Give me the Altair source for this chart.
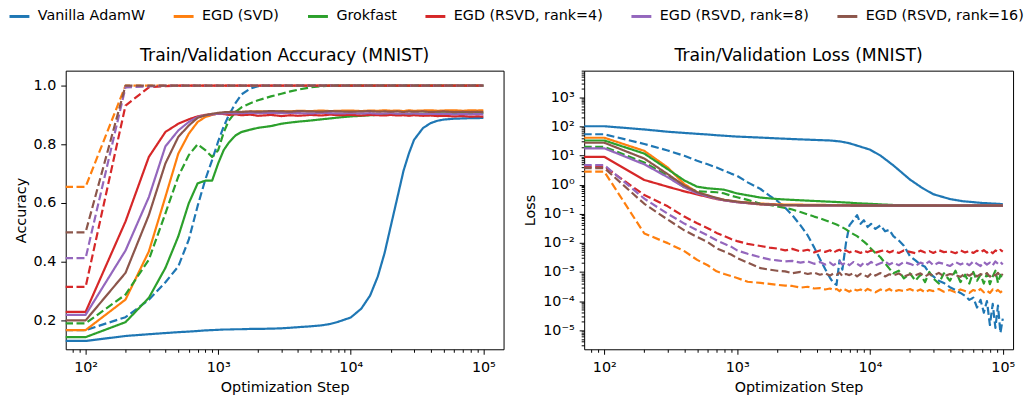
import altair as alt
import pandas as pd

METHODS = ["Vanilla AdamW", "EGD (SVD)", "Grokfast", "EGD (RSVD, rank=4)",
           "EGD (RSVD, rank=8)", "EGD (RSVD, rank=16)"]
COLORS = ["#1f77b4", "#ff7f0e", "#2ca02c", "#d62728", "#9467bd", "#8c564b"]

# ---------------- accuracy panel ----------------
ACC_STEPS = [70, 100, 200, 300, 400, 500, 600, 700, 800, 900,
             1000, 1100, 1200, 1350, 1500, 1750, 2000, 2500, 3000, 3500,
             4000, 5000, 6000, 7000, 8000, 10000, 12000, 14000, 16000, 18000,
             20000, 22500, 25000, 27500, 30000, 35000, 40000, 45000, 50000, 60000,
             70000, 80000, 90000, 100000]

ACC_TRAIN_ADAMW = [0.130, 0.130, 0.147, 0.153, 0.157, 0.160, 0.162, 0.164, 0.166, 0.167,
                   0.168, 0.169, 0.169, 0.170, 0.170, 0.171, 0.171, 0.172, 0.173, 0.175,
                   0.177, 0.180, 0.183, 0.188, 0.195, 0.210, 0.240, 0.285, 0.350, 0.430,
                   0.520, 0.620, 0.710, 0.770, 0.815, 0.855, 0.872, 0.880, 0.884, 0.887,
                   0.888, 0.889, 0.889, 0.890]
ACC_VAL_ADAMW = [0.167, 0.167, 0.211, 0.270, 0.330, 0.384, 0.475, 0.590, 0.680, 0.746,
                 0.810, 0.860, 0.898, 0.940, 0.970, 0.990, 0.998, 1.000, 1.000, 1.000,
                 1.0, 1.0, 1.0, 1.0, 1.0, 1.0, 1.0, 1.0, 1.0, 1.0,
                 1.0, 1.0, 1.0, 1.0, 1.0, 1.0, 1.0, 1.0, 1.0, 1.0,
                 1.0, 1.0, 1.0, 1.0]
ACC_TRAIN_SVD = [0.167, 0.167, 0.271, 0.435, 0.621, 0.768, 0.836, 0.876, 0.893, 0.900,
                 0.905, 0.907, 0.908, 0.909, 0.910, 0.911, 0.912, 0.911, 0.913, 0.912,
                 0.914, 0.913, 0.915, 0.913, 0.914, 0.915, 0.913, 0.915, 0.914, 0.916,
                 0.914, 0.915, 0.913, 0.916, 0.914, 0.915, 0.916, 0.914, 0.915, 0.916,
                 0.914, 0.916, 0.915, 0.916]
ACC_VAL_SVD = [0.655, 0.655, 1.0, 1.0, 1.0, 1.0, 1.0, 1.0, 1.0, 1.0,
               1.0, 1.0, 1.0, 1.0, 1.0, 1.0, 1.0, 1.0, 1.0, 1.0,
               1.0, 1.0, 1.0, 1.0, 1.0, 1.0, 1.0, 1.0, 1.0, 1.0,
               1.0, 1.0, 1.0, 1.0, 1.0, 1.0, 1.0, 1.0, 1.0, 1.0,
               1.0, 1.0, 1.0, 1.0]
ACC_TRAIN_GROK = [0.143, 0.143, 0.194, 0.277, 0.379, 0.486, 0.599, 0.667, 0.676, 0.676,
                  0.735, 0.780, 0.805, 0.830, 0.842, 0.850, 0.856, 0.862, 0.870, 0.874,
                  0.877, 0.881, 0.885, 0.888, 0.891, 0.895, 0.897, 0.899, 0.900, 0.901,
                  0.902, 0.902, 0.903, 0.903, 0.904, 0.904, 0.905, 0.905, 0.905, 0.906,
                  0.906, 0.906, 0.907, 0.907]
ACC_VAL_GROK = [0.190, 0.190, 0.288, 0.407, 0.565, 0.690, 0.763, 0.800, 0.780, 0.757,
                0.780, 0.840, 0.880, 0.910, 0.926, 0.940, 0.950, 0.963, 0.972, 0.980,
                0.986, 0.994, 0.998, 1.0, 1.0, 1.0, 1.0, 1.0, 1.0, 1.0,
                1.0, 1.0, 1.0, 1.0, 1.0, 1.0, 1.0, 1.0, 1.0, 1.0,
                1.0, 1.0, 1.0, 1.0]
ACC_TRAIN_R4 = [0.229, 0.229, 0.537, 0.757, 0.842, 0.870, 0.885, 0.895, 0.900, 0.902,
                0.904, 0.903, 0.900, 0.902, 0.899, 0.901, 0.897, 0.900, 0.896, 0.899,
                0.897, 0.900, 0.898, 0.901, 0.899, 0.900, 0.898, 0.900, 0.899, 0.898,
                0.900, 0.898, 0.899, 0.897, 0.899, 0.897, 0.898, 0.896, 0.897, 0.895,
                0.896, 0.894, 0.895, 0.894]
ACC_VAL_R4 = [0.314, 0.314, 0.932, 0.994, 0.998, 1.0, 1.0, 1.0, 1.0, 1.0,
              1.0, 1.0, 1.0, 1.0, 1.0, 1.0, 1.0, 1.0, 1.0, 1.0,
              1.0, 1.0, 1.0, 1.0, 1.0, 1.0, 1.0, 1.0, 1.0, 1.0,
              1.0, 1.0, 1.0, 1.0, 1.0, 1.0, 1.0, 1.0, 1.0, 1.0,
              1.0, 1.0, 1.0, 1.0]
ACC_TRAIN_R8 = [0.219, 0.219, 0.438, 0.620, 0.793, 0.847, 0.876, 0.893, 0.899, 0.902,
                0.904, 0.905, 0.906, 0.905, 0.906, 0.907, 0.906, 0.907, 0.906, 0.907,
                0.906, 0.905, 0.907, 0.906, 0.905, 0.906, 0.905, 0.906, 0.904, 0.905,
                0.906, 0.904, 0.905, 0.904, 0.905, 0.903, 0.904, 0.903, 0.904, 0.902,
                0.903, 0.902, 0.903, 0.902]
ACC_VAL_R8 = [0.412, 0.412, 0.994, 0.997, 1.0, 1.0, 1.0, 1.0, 1.0, 1.0,
              1.0, 1.0, 1.0, 1.0, 1.0, 1.0, 1.0, 1.0, 1.0, 1.0,
              1.0, 1.0, 1.0, 1.0, 1.0, 1.0, 1.0, 1.0, 1.0, 1.0,
              1.0, 1.0, 1.0, 1.0, 1.0, 1.0, 1.0, 1.0, 1.0, 1.0,
              1.0, 1.0, 1.0, 1.0]
ACC_TRAIN_R16 = [0.200, 0.200, 0.362, 0.559, 0.735, 0.825, 0.864, 0.890, 0.899, 0.904,
                 0.907, 0.909, 0.910, 0.911, 0.910, 0.912, 0.911, 0.913, 0.912, 0.911,
                 0.913, 0.912, 0.911, 0.913, 0.912, 0.911, 0.912, 0.913, 0.911, 0.912,
                 0.911, 0.912, 0.910, 0.912, 0.911, 0.912, 0.910, 0.911, 0.912, 0.910,
                 0.911, 0.910, 0.911, 0.910]
ACC_VAL_R16 = [0.500, 0.500, 1.0, 1.0, 1.0, 1.0, 1.0, 1.0, 1.0, 1.0,
               1.0, 1.0, 1.0, 1.0, 1.0, 1.0, 1.0, 1.0, 1.0, 1.0,
               1.0, 1.0, 1.0, 1.0, 1.0, 1.0, 1.0, 1.0, 1.0, 1.0,
               1.0, 1.0, 1.0, 1.0, 1.0, 1.0, 1.0, 1.0, 1.0, 1.0,
               1.0, 1.0, 1.0, 1.0]

# ---------------- loss panel ----------------
LOSS_TRAIN_STEPS = [70, 100, 200, 300, 400, 500, 600, 700, 800, 1000,
                    1500, 2000, 3000, 5000, 6000, 7000, 8000, 10000, 12000, 15000,
                    20000, 25000, 30000, 40000, 50000, 70000, 100000]
LOSS_TRAIN_ADAMW = [102, 102, 79, 66, 60, 56, 53, 50, 48, 45,
                    41.5, 39, 36, 33, 30.5, 26.5, 22, 16, 10, 4.6,
                    1.5, 0.75, 0.47, 0.32, 0.27, 0.235, 0.215]
LOSS_TRAIN_SVD = [41, 41, 14.5, 3.9, 1.05, 0.55, 0.42, 0.34, 0.30, 0.26,
                  0.225, 0.21, 0.205, 0.20, 0.20, 0.198, 0.197, 0.196, 0.195, 0.195,
                  0.194, 0.193, 0.193, 0.192, 0.192, 0.191, 0.191]
LOSS_TRAIN_GROK = [33, 33, 11.7, 3.4, 1.4, 0.85, 0.75, 0.71, 0.67, 0.50,
                   0.36, 0.32, 0.29, 0.26, 0.25, 0.24, 0.23, 0.22, 0.21, 0.20,
                   0.195, 0.193, 0.192, 0.191, 0.19, 0.19, 0.19]
LOSS_TRAIN_R4 = [9, 9, 1.45, 0.85, 0.59, 0.46, 0.38, 0.32, 0.29, 0.25,
                 0.21, 0.20, 0.195, 0.193, 0.192, 0.192, 0.191, 0.191, 0.19, 0.19,
                 0.19, 0.19, 0.19, 0.19, 0.19, 0.19, 0.19]
LOSS_TRAIN_R8 = [17.8, 17.8, 5.0, 1.8, 0.81, 0.50, 0.40, 0.33, 0.29, 0.25,
                 0.215, 0.20, 0.195, 0.193, 0.192, 0.192, 0.191, 0.191, 0.19, 0.19,
                 0.19, 0.19, 0.19, 0.19, 0.19, 0.19, 0.19]
LOSS_TRAIN_R16 = [27.6, 27.6, 7.9, 2.3, 0.93, 0.55, 0.43, 0.35, 0.30, 0.26,
                  0.215, 0.20, 0.195, 0.193, 0.192, 0.192, 0.191, 0.191, 0.19, 0.19,
                  0.19, 0.19, 0.19, 0.19, 0.19, 0.19, 0.19]

LOSS_STEPS = [70, 100, 200, 300, 400, 500, 600, 700, 800, 900,
              1000, 1200, 1500, 1750, 2000, 2300, 2600, 3000, 3400, 3800,
              4200, 4600, 5000, 5300, 5600, 5900, 6200, 6600, 7000, 7500,
              8000, 8500, 9000, 9600, 10200, 11000, 12000, 13000, 14000, 15000,
              16500, 18000, 20000, 22000, 24000, 26000, 28000, 30000, 33000, 36000,
              40000, 44000, 48000, 52000, 56000, 60000, 64000, 68000, 72000, 76000,
              80000, 84000, 88000, 92000, 96000, 100000]
LOSS_VAL_ADAMW = [54, 54, 25, 15, 9.8, 6.6, 5.0, 3.9, 3.0, 2.4,
                  2.0, 1.2, 0.71, 0.42, 0.28, 0.16, 0.09, 0.04, 0.018, 0.007,
                  0.0028, 0.00126, 0.00063, 0.00042, 0.00036, 0.0025, 0.0012, 0.01, 0.04, 0.06,
                  0.09, 0.045, 0.06, 0.035, 0.045, 0.03, 0.04, 0.025, 0.028, 0.017,
                  0.012, 0.008, 0.0035, 0.0025, 0.0018, 0.0015, 0.0009, 0.0007, 0.0005, 0.00042,
                  0.0003, 0.00024, 0.00019, 0.00015, 0.00011, 0.00013, 0.00006, 0.00011, 0.00004, 0.0001,
                  0.000015, 0.00008, 0.000012, 0.00007, 0.000008, 0.000025]
LOSS_VAL_SVD = [2.8, 2.8, 0.021, 0.0098, 0.0052, 0.0026, 0.0017, 0.00105, 0.00085, 0.00072,
                0.00062, 0.00046, 0.00042, 0.00039, 0.00036, 0.00034, 0.00033, 0.00029, 0.00031, 0.00027,
                0.00028, 0.00025, 0.00027, 0.00024, 0.00026, 0.00022, 0.00027, 0.00024, 0.00021, 0.00026,
                0.00023, 0.00025, 0.00021, 0.00026, 0.00023, 0.00020, 0.00025, 0.00022, 0.00026, 0.00021,
                0.00024, 0.00022, 0.00026, 0.00021, 0.00025, 0.00020, 0.00024, 0.00022, 0.00026, 0.00021,
                0.00024, 0.00020, 0.00025, 0.00022, 0.00019, 0.00024, 0.00021, 0.00026, 0.00020, 0.00023,
                0.00019, 0.00025, 0.00021, 0.00024, 0.00020, 0.00023]
LOSS_VAL_GROK = [20, 20, 5.8, 2.0, 0.81, 0.59, 0.57, 0.55, 0.50, 0.42,
                 0.37, 0.30, 0.22, 0.20, 0.18, 0.16, 0.14, 0.115, 0.095, 0.08,
                 0.07, 0.06, 0.052, 0.047, 0.043, 0.038, 0.034, 0.029, 0.024, 0.020,
                 0.017, 0.0135, 0.011, 0.0085, 0.0062, 0.0045, 0.0032, 0.0020, 0.0013, 0.0009,
                 0.0011, 0.0006, 0.0009, 0.0005, 0.0008, 0.00045, 0.0010, 0.0006, 0.0004, 0.0009,
                 0.0005, 0.0011, 0.00045, 0.0008, 0.0004, 0.0010, 0.0005, 0.0008, 0.0004, 0.0009,
                 0.00038, 0.0007, 0.0011, 0.00042, 0.0008, 0.0005]
LOSS_VAL_R4 = [4.2, 4.2, 0.44, 0.18, 0.08, 0.047, 0.032, 0.022, 0.017, 0.0135,
               0.0115, 0.0092, 0.0078, 0.0069, 0.0064, 0.0055, 0.0062, 0.0051, 0.0058, 0.0047,
               0.0055, 0.0049, 0.0056, 0.0046, 0.0053, 0.0058, 0.0049, 0.0055, 0.0047, 0.0054,
               0.0050, 0.0045, 0.0053, 0.0048, 0.0055, 0.0046, 0.0052, 0.0057, 0.0047, 0.0053,
               0.0045, 0.0055, 0.0049, 0.0044, 0.0054, 0.0047, 0.0052, 0.0045, 0.0056, 0.0048,
               0.0051, 0.0044, 0.0055, 0.0047, 0.0052, 0.0045, 0.0054, 0.0048, 0.0056, 0.0046,
               0.0053, 0.0044, 0.0055, 0.0049, 0.0057, 0.0050]
LOSS_VAL_R8 = [4.7, 4.7, 0.33, 0.10, 0.046, 0.027, 0.018, 0.0123, 0.0093, 0.0074,
               0.0055, 0.0042, 0.0032, 0.0027, 0.0025, 0.0023, 0.0024, 0.0021, 0.0023, 0.0019,
               0.0022, 0.0018, 0.0021, 0.0017, 0.0020, 0.0023, 0.0018, 0.0021, 0.0017, 0.0022,
               0.0019, 0.0016, 0.0021, 0.0018, 0.0022, 0.0017, 0.0020, 0.0023, 0.0018, 0.0021,
               0.0017, 0.0022, 0.0019, 0.0016, 0.0021, 0.0018, 0.0023, 0.0017, 0.0021, 0.0019,
               0.0016, 0.0022, 0.0018, 0.0021, 0.0017, 0.0023, 0.0019, 0.0016, 0.0022, 0.0018,
               0.0021, 0.0017, 0.0023, 0.0019, 0.0022, 0.0018]
LOSS_VAL_R16 = [3.7, 3.7, 0.22, 0.063, 0.027, 0.016, 0.0107, 0.0065, 0.0050, 0.0040,
                0.0030, 0.0021, 0.00135, 0.0012, 0.0011, 0.00105, 0.0009, 0.0010, 0.00085, 0.00095,
                0.0008, 0.0009, 0.00075, 0.00088, 0.0008, 0.00095, 0.00072, 0.00085, 0.00078, 0.0009,
                0.0007, 0.00086, 0.00079, 0.00068, 0.00088, 0.00075, 0.00092, 0.0007, 0.00083, 0.00076,
                0.00089, 0.00069, 0.00084, 0.00077, 0.0009, 0.0007, 0.00086, 0.00074, 0.00093, 0.00071,
                0.00085, 0.00078, 0.00068, 0.00089, 0.00074, 0.00092, 0.0007, 0.00084, 0.00077, 0.00091,
                0.00069, 0.00086, 0.00075, 0.00093, 0.00072, 0.00085]

# ---------------- build tables ----------------
acc_series = [
    (ACC_TRAIN_ADAMW, ACC_VAL_ADAMW), (ACC_TRAIN_SVD, ACC_VAL_SVD),
    (ACC_TRAIN_GROK, ACC_VAL_GROK), (ACC_TRAIN_R4, ACC_VAL_R4),
    (ACC_TRAIN_R8, ACC_VAL_R8), (ACC_TRAIN_R16, ACC_VAL_R16),
]
loss_series = [
    (LOSS_TRAIN_ADAMW, LOSS_VAL_ADAMW), (LOSS_TRAIN_SVD, LOSS_VAL_SVD),
    (LOSS_TRAIN_GROK, LOSS_VAL_GROK), (LOSS_TRAIN_R4, LOSS_VAL_R4),
    (LOSS_TRAIN_R8, LOSS_VAL_R8), (LOSS_TRAIN_R16, LOSS_VAL_R16),
]

acc_rows, loss_rows = [], []
for m, (tr, va) in zip(METHODS, acc_series):
    for s, v in zip(ACC_STEPS, tr):
        acc_rows.append({"method": m, "split": "train", "step": s, "value": v})
    for s, v in zip(ACC_STEPS, va):
        acc_rows.append({"method": m, "split": "val", "step": s, "value": v})
for m, (tr, va) in zip(METHODS, loss_series):
    for s, v in zip(LOSS_TRAIN_STEPS, tr):
        loss_rows.append({"method": m, "split": "train", "step": s, "value": v})
    for s, v in zip(LOSS_STEPS, va):
        loss_rows.append({"method": m, "split": "val", "step": s, "value": v})
acc_df = pd.DataFrame(acc_rows)
loss_df = pd.DataFrame(loss_rows)

FONT = "DejaVu Sans"
XLAB = ("datum.value < 500 ? '10²' : datum.value < 5000 ? '10³' : "
        "datum.value < 50000 ? '10⁴' : '10⁵'")
YLAB = ("datum.value < 5e-5 ? '10⁻⁵' : datum.value < 5e-4 ? '10⁻⁴' : "
        "datum.value < 5e-3 ? '10⁻³' : datum.value < 5e-2 ? '10⁻²' : "
        "datum.value < 0.5 ? '10⁻¹' : datum.value < 5 ? '10⁰' : "
        "datum.value < 50 ? '10¹' : datum.value < 500 ? '10²' : '10³'")
MAJOR_X = [100, 1000, 10000, 100000]
MINOR_X = [80, 90] + [m * 10 ** k for k in (2, 3, 4) for m in range(2, 10)]
MAJOR_Y = [1e-5, 1e-4, 1e-3, 1e-2, 1e-1, 1, 10, 100, 1000]
MINOR_Y = [m * 10.0 ** k for k in range(-6, 4) for m in range(2, 10)
           if 2.2e-6 <= m * 10.0 ** k <= 8300]

color = alt.Color(
    "method:N",
    scale=alt.Scale(domain=METHODS, range=COLORS),
    sort=METHODS,
    legend=alt.Legend(
        title=None, orient="none", legendX=-58, legendY=-66, direction="horizontal",
        symbolType="stroke", symbolSize=400, symbolStrokeWidth=3,
        labelFont=FONT, labelFontSize=14.4, labelColor="black", labelLimit=400,
        columnPadding=22, labelOffset=7, padding=0,
    ),
)
dash = alt.StrokeDash(
    "split:N",
    scale=alt.Scale(domain=["train", "val"], range=[[1, 0], [8, 3.5]]),
    legend=None,
)


def panel(df, xdom, ydom, ylog, ytitle, title, width, height):
    if ylog:
        yscale = alt.Scale(type="log", domain=ydom, nice=False)
        yaxis = alt.Axis(values=MAJOR_Y, labelExpr=YLAB, title=ytitle)
    else:
        yscale = alt.Scale(domain=ydom, nice=False, zero=False)
        yaxis = alt.Axis(values=[0.2, 0.4, 0.6, 0.8, 1.0], format=".1f", title=ytitle)
    xscale = alt.Scale(type="log", domain=xdom, nice=False)
    lines = alt.Chart(df).mark_line(strokeWidth=2.2, clip=True, strokeJoin="round").encode(
        x=alt.X("step:Q", scale=xscale,
                axis=alt.Axis(values=MAJOR_X, labelExpr=XLAB, title="Optimization Step",
                              labelPadding=6, titlePadding=7)),
        y=alt.Y("value:Q", scale=yscale, axis=yaxis),
        color=color,
        strokeDash=dash,
    )
    minor_enc = {
        "x": alt.X("step:Q", scale=xscale,
                   axis=alt.Axis(values=MINOR_X, labels=False, tickSize=3, title=None,
                                 orient="bottom", domain=False)),
    }
    if ylog:
        minor_enc["y"] = alt.Y("value:Q", scale=yscale,
                               axis=alt.Axis(values=MINOR_Y, labels=False, tickSize=3,
                                             title=None, orient="left", domain=False))
    minor = alt.Chart(df).mark_point(opacity=0, size=1, clip=True).encode(**minor_enc)
    layer = alt.layer(lines, minor)
    if ylog:
        layer = layer.resolve_axis(x="independent", y="independent")
    else:
        layer = layer.resolve_axis(x="independent")
    return layer.properties(width=width, height=height,
                            title=alt.TitleParams(title, anchor="middle"))


acc_chart = panel(acc_df, [70.8, 142000], [0.1017, 1.0508], False, "Accuracy",
                  "Train/Validation Accuracy (MNIST)", 440, 280)
loss_chart = panel(loss_df, [70.5, 119500], [2.2e-6, 8300], True, "Loss",
                   "Train/Validation Loss (MNIST)", 431, 280)

chart = alt.hconcat(acc_chart, loss_chart, spacing=81, bounds="flush").resolve_scale(
    color="shared", strokeDash="shared"
).properties(
    padding={"left": 0, "top": -4, "right": 0, "bottom": 0}
).configure_view(
    stroke="black", strokeWidth=1
).configure_axis(
    grid=False, domain=False, labelFont=FONT, labelFontSize=14.4, labelColor="black",
    titleFont=FONT, titleFontSize=14.4, titleFontWeight="normal", titleColor="black",
    tickColor="black", tickWidth=1, tickSize=5, labelPadding=5,
).configure_axisY(
    titlePadding=5
).configure_title(
    font=FONT, fontSize=17.3, fontWeight="normal", color="black", offset=6
)

chart.save("out.html", embed_options={"renderer": "svg", "actions": False})
